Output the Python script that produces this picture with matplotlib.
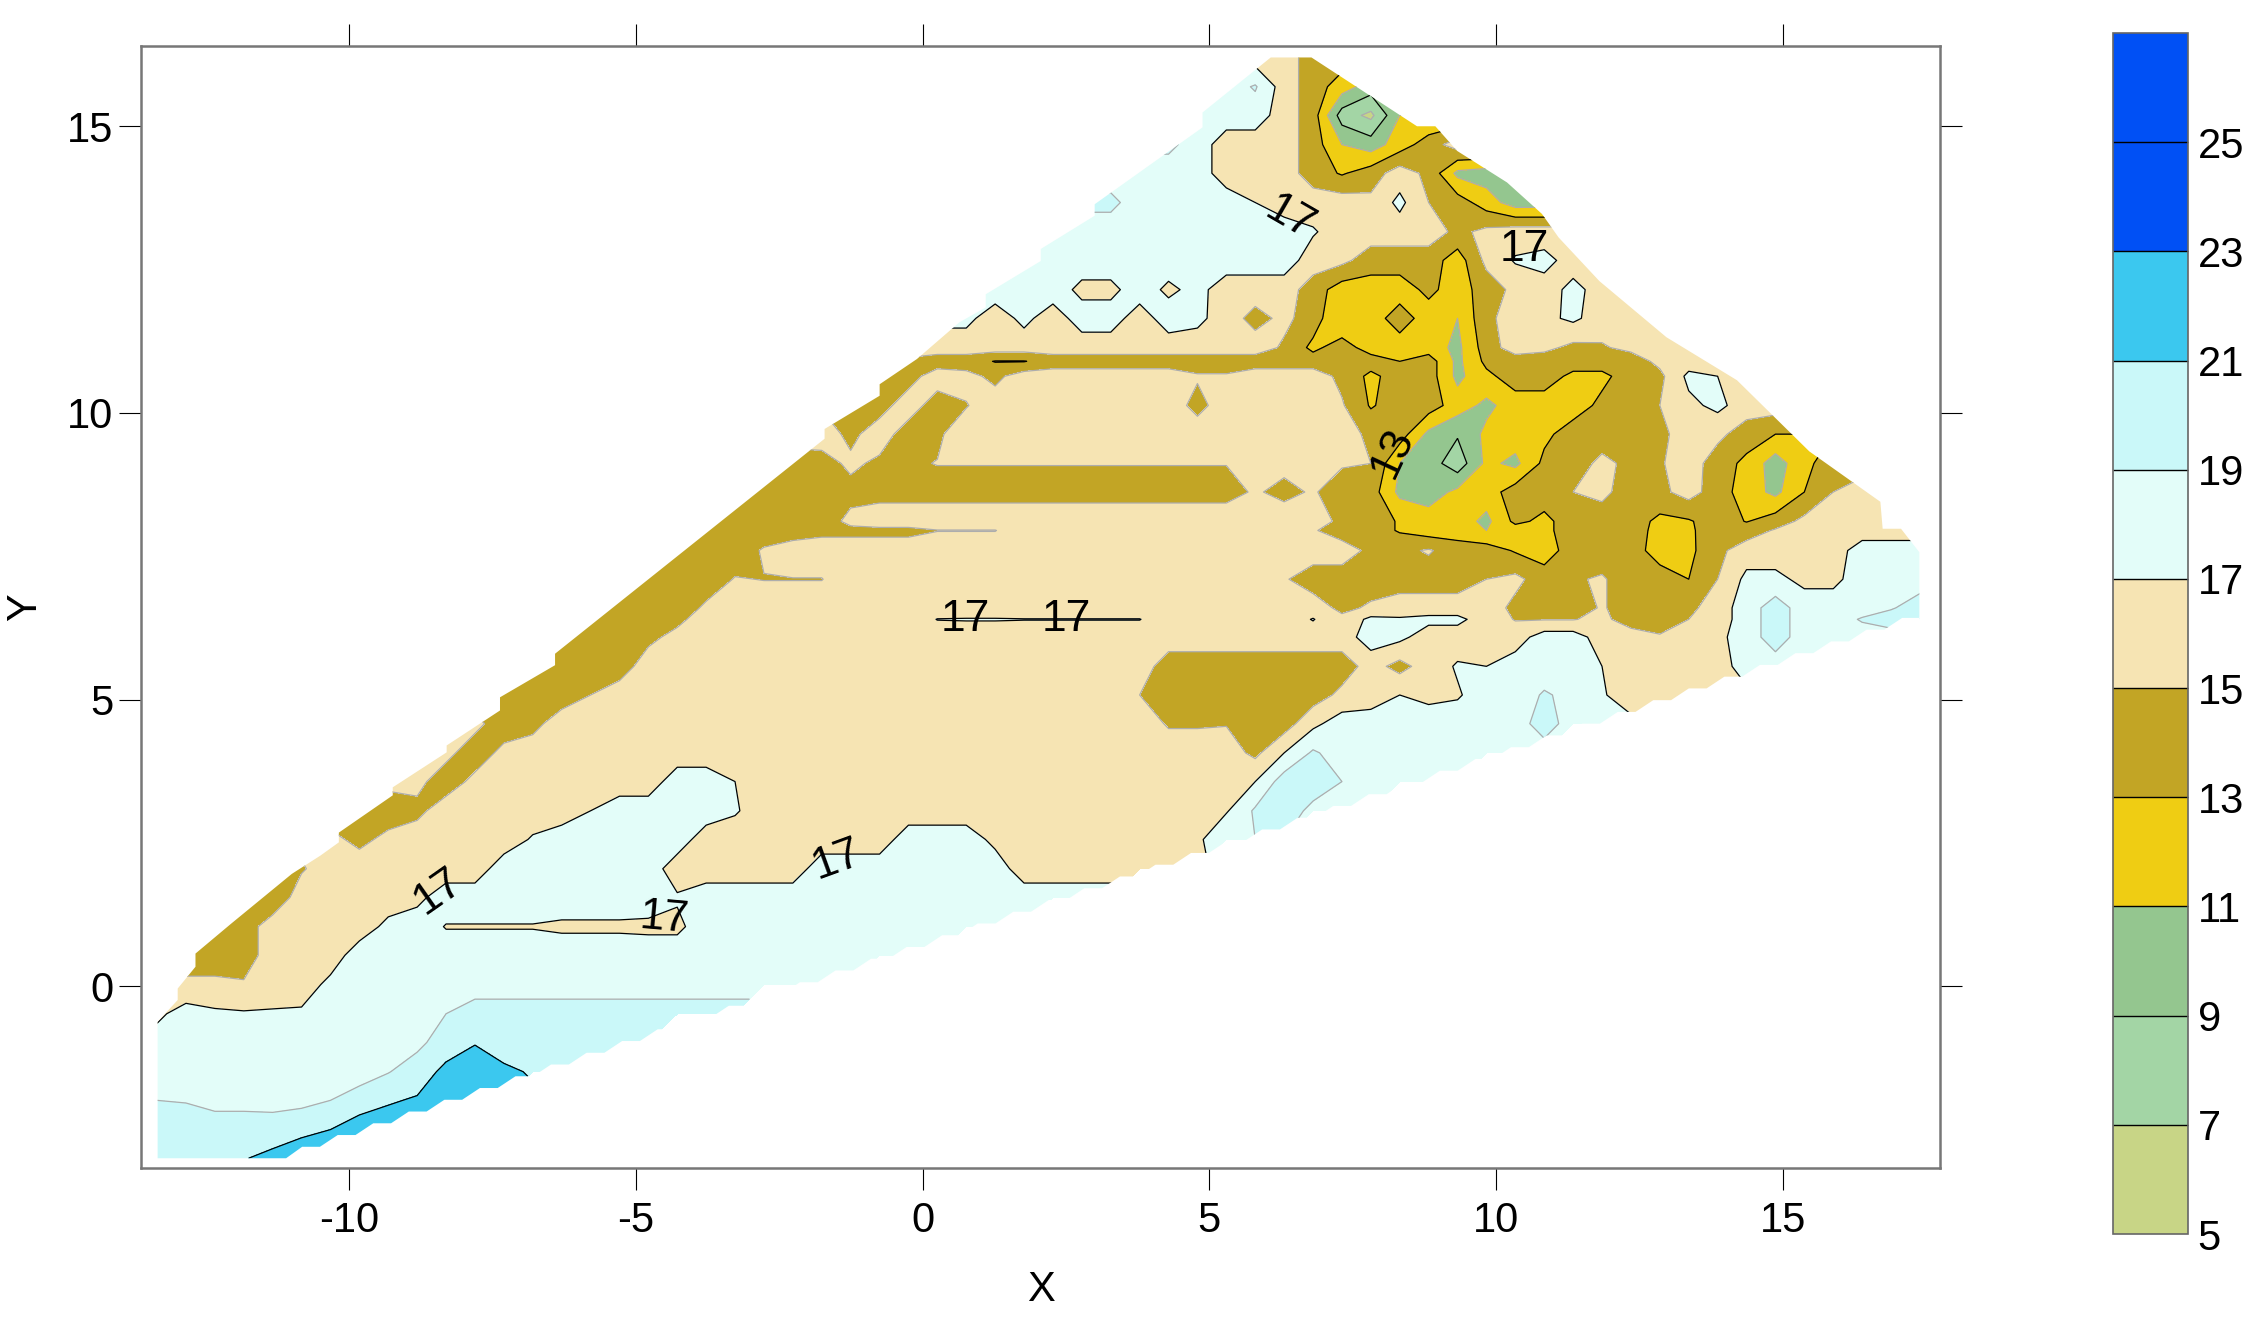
#!/usr/bin/env python3
"""Filled contour map of Z over X / Y, values read off the reference grid."""

import numpy as np
import matplotlib

matplotlib.use("Agg")
import matplotlib.pyplot as plt
from matplotlib.patches import PathPatch
from matplotlib.path import Path

plt.rcParams["font.family"] = ["Liberation Sans", "DejaVu Sans"]
plt.rcParams["axes.unicode_minus"] = False

# contour levels and the fill of each band
levels = [5, 7, 9, 11, 13, 15, 17, 19, 21, 23, 25, 27]
band_colors = [
    "#C8D586", "#A3D5A5", "#94C68F", "#EFCD13", "#C2A525", "#F6E4B3",
    "#E3FDF9", "#CAF8F9", "#3BC8EF", "#0050F5", "#0050F5",
]
major_levels = [9, 13, 17, 21, 25]

# grid columns
grid_x = np.linspace(-13.35, 17.39, 62)

# grid rows, top to bottom
grid_y = [
    16.2, 15.69, 15.19, 14.68, 14.18, 13.67, 13.16, 12.66, 12.15, 11.65, 11.14,
    10.9, 10.64, 10.13, 9.63, 9.12, 8.62, 8.11, 7.95, 7.6, 7.1, 6.6, 6.4, 6.09,
    5.58, 5.08, 4.58, 4.07, 3.57, 3.06, 2.56, 2.05, 1.55, 1.04, 0.54, 0.03,
    -0.48, -0.98, -1.49, -1.99, -2.5, -3.0,
]

# for each row: first filled column, then the values read from there on
z_rows = [
    (39, [16, 14]),
    (37, [18, 19.2, 16, 14, 12, 10]),
    (36, [18, 18, 18, 16, 14, 8, 6.5, 11]),
    (35, [19.5, 18, 16, 16, 16, 14, 11, 10, 12, 14, 16]),
    (34, [18, 18, 18, 16, 16, 16, 14, 12.8, 14, 16, 14.5, 10.5, 10]),
    (33, [19.5, 18, 18, 18, 18, 17, 16, 16, 16, 15.5, 17.5, 15, 14, 12, 10]),
    (31, [18] * 9 + [17.2, 16, 16, 16, 16, 14.5, 15.5, 16, 16]),
    (30, [18] * 10 + [16, 15.5, 14, 14, 14, 12, 15.5, 17.2, 17.6, 16.2]),
    (29, [18, 18, 18, 16.5, 16.5, 18, 16.6, 17.6, 16, 16, 16, 14, 12, 12, 12, 13.5, 12, 14, 15.5, 16.2, 17.5, 16.3]),
    (28, [17.5, 16, 17.5, 16, 17.9, 17.9, 16, 18, 17.5, 16, 14.3, 15.5, 14, 11, 12, 14, 12, 11, 14.5, 16, 16.5, 17.4, 16, 16]),
    (27, [16] * 12 + [14.7, 12.5, 14, 12, 12, 12, 10.5, 14, 16, 15.5, 14.5, 14.8, 15.5, 16, 16]),
    (26, [14.6, 14, 14, 12.9, 12.9] + [14] * 12 + [13, 14, 10.5, 13.5, 14, 14, 14, 14, 14, 15.5, 16]),
    (26, [14.2, 16, 15.6, 14.5, 16] + [16] * 5 + [15.2, 15.2, 16, 16, 16, 14.5, 12.5, 14, 14, 10.5, 12.5, 14, 14, 12.5, 12.5, 14, 14.5, 17.5, 17]),
    (24, [14.8, 14.2, 16, 14, 14.9] + [16] * 7 + [14.4] + [16] * 4 + [15.2, 12.8, 14, 14, 12, 10.5, 12, 12, 12, 13.5, 14, 15, 16.5, 17.5, 16]),
    (23, [16, 14.5, 16, 14, 14.7] + [16] * 14 + [14.5, 14, 10.5, 9.2, 11.5, 12, 12.5, 14, 14, 14, 14.5, 16, 15.5, 14, 13]),
    (22, [14, 14.2, 15.4, 14.6, 14.8] + [15.05] * 11 + [15.2, 15.5, 16, 15.2, 15, 11, 10, 7.8, 11.5, 10.5, 13.5, 14, 15.5, 14.5, 14.8, 16, 14, 12.5, 10, 12.5, 14]),
    (21, [14.4] * 17 + [15.2, 14.5, 15.2, 14, 14, 10.5, 10, 11.5, 12, 14, 14, 15, 15.5, 14, 14.5, 15.8, 14, 12, 10.5, 13, 15, 16]),
    (19, [14] * 5 + [15.5] + [16] * 16 + [14.5, 14, 12.8, 12, 12, 10.5, 13.5, 12.5, 14, 14, 14, 12.5, 12.8, 14, 12.9, 14, 15.5, 16, 16, 16]),
    (19, [14] * 4 + [14.5] * 4 + [14.95] * 3 + [16] * 10 + [15.2, 14, 14, 12.8, 12, 12, 11, 12, 12.5, 14, 14, 14, 12.3, 12.7, 14, 14, 15.2, 16, 16, 16, 16]),
    (18, [14, 14, 14, 15.2] + [16] * 20 + [14.5, 14.5, 15.2, 14, 14, 12.8, 12, 14, 14, 14, 12, 12.5, 14.5, 16, 16, 16, 16, 18, 18, 18]),
    (17, [14, 14, 14, 15.1, 14.95, 14.95, 14.95] + [16] * 15 + [15.2, 14, 14, 14, 14, 14, 14, 15, 15.5, 14, 14.8, 15.2, 14, 14, 13, 15, 17.5, 17.5, 16.5, 16.5, 18, 18, 18]),
    (16, [14.5, 14.5, 14, 15.3] + [16] * 21 + [14.5, 15.3, 16, 16, 16, 16, 14.5, 14, 14, 15.2, 14, 14, 14.5, 16, 18, 20, 18, 18, 18, 18.8, 20]),
    (15, [15, 14, 14, 14.5, 16] + [16] * 7 + [17.05, 17.1, 17.1, 17.05, 17.05, 17.05, 17.05, 17.05] + [16] * 5 + [17.1, 15.5, 17.5, 17.2, 17.5, 17.5, 16, 14.9, 14.9, 14.9, 15.5, 14, 14, 15, 16, 18, 20, 18, 18, 19.2, 20, 20]),
    (15, [14, 14, 14.5, 15.6] + [16] * 23 + [18, 17.5, 16, 16, 16, 16, 18, 18, 16, 16, 15.2, 16, 16.5, 18, 20, 18, 18, 18]),
    (14, [14, 14, 14] + [16] * 18 + [14] * 7 + [15.8, 14.3, 16, 17.2, 17, 18, 18, 18, 17, 16, 16, 16, 16, 18, 18]),
    (12, [14, 14, 14, 15] + [16] * 18 + [15] + [14] * 6 + [15.5, 16, 17, 16.5, 16.8, 18, 18, 19.2, 18.5, 17.2, 16, 16, 16.5]),
    (11, [15.5, 14, 14.4] + [16] * 21 + [14.8, 14.8, 14.9, 14, 14, 16.5] + [18] * 7 + [20, 18, 17.5]),
    (10, [15.5, 14, 15.5] + [16] * 25 + [14.5, 17, 19.3] + [18] * 6),
    (9, [15.5, 14, 15.5] + [16] * 6 + [18, 18, 17] + [16] * 17 + [17, 20, 20, 19, 18, 18]),
    (8, [14, 14.5] + [16] * 5 + [17] + [18] * 4 + [17.2] + [16] * 16 + [16.8, 19.3, 20, 18.5]),
    (6, [15.5, 14.5, 15.5] + [16] * 4 + [17.2] + [18] * 5 + [16] * 7 + [18] * 3 + [16.5] + [16] * 6 + [16.5, 19]),
    (5, [14.8] + [16] * 6 + [18] * 6 + [16] * 5 + [18] * 7 + [16] * 5),
    (4, [13.5] + [16] * 4 + [16.5] + [18] * 8 + [17.2] + [18] * 13),
    (3, [14] + [16] * 4 + [17.5, 18] + [16.9] * 4 + [16.7] * 3 + [16.6] * 2 + [18] * 10),
    (2, [14.5, 14, 16, 16, 16] + [18] * 19),
    (1, [15.2, 15.2, 15.2, 16, 16, 17.5] + [18] * 16),
    (0, [16.5, 18, 17.4, 17.2, 17.2, 17.3, 18, 18, 18, 18, 19] + [20] * 8),
    (0, [18] * 9 + [18.5, 20, 20.9, 20, 20, 20, 20]),
    (0, [18] * 8 + [18.9, 20, 21.5, 22, 21.4, 20.8]),
    (0, [19, 18.9, 18.4, 18.4, 18.3, 18.4, 19, 20, 20.8, 21.2, 22]),
    (0, [20, 20, 20, 20, 20, 20.6, 21, 22]),
    (0, [20, 20, 20, 20.9, 21.5, 22]),
]

# outline of the surveyed area, left side and top, then right side
outline_x = [
    -13.34, -13.34, -12.99, -12.99, -12.68, -12.68, -12.06, -11.0, -10.5, -10.18,
    -10.18, -9.24, -9.24, -8.3, -8.3, -7.69, -7.37, -7.37, -6.41, -6.41, -1.71,
    -1.71, -0.75, -0.75, -0.1, 0.64, 1.1, 1.1, 2.06, 2.06, 3.0, 3.0, 4.88, 4.88,
    6.07, 6.78, 8.62, 8.94, 9.32, 10.19, 10.8, 11.09, 11.8, 12.97, 14.2, 15.46,
    16.7, 16.74, 17.06, 17.38, 17.38,
]
outline_y = [
    -3.0, -0.62, -0.24, -0.04, 0.34, 0.57, 1.09, 1.96, 2.28, 2.51, 2.68, 3.33,
    3.47, 4.08, 4.2, 4.6, 4.81, 5.04, 5.6, 5.8, 9.55, 9.72, 10.3, 10.5, 10.94,
    11.58, 11.84, 12.07, 12.65, 12.86, 13.44, 13.64, 14.98, 15.24, 16.2, 16.2,
    15.0, 15.0, 14.57, 14.02, 13.47, 13.06, 12.3, 11.32, 10.57, 9.33, 8.45, 7.98,
    7.98, 7.57, 6.4,
]

# inline contour labels
label_texts = ["17", "17", "17", "17", "17", "17", "17", "13"]
label_x = [6.4, 10.5, 0.75, 2.5, -8.45, -4.5, -1.5, 8.2]
label_y = [13.4, 12.85, 6.4, 6.4, 1.65, 1.18, 2.2, 9.3]
label_angle = [-30, 0, 0, 0, 35, -5, 20, 65]

x_ticks = [-10, -5, 0, 5, 10, 15]
y_ticks = [0, 5, 10, 15]

Z = np.full((len(grid_y), len(grid_x)), np.nan)
for row, (start, values) in enumerate(z_rows):
    end = start + len(values)
    Z[row, start:end] = values
    # carry the edge values on, the outline clips them
    Z[row, max(start - 2, 0):start] = values[0]
    Z[row, end:end + 2] = values[-1]

# lower edge of the area is a staircase
stair_x, stair_y = [], []
for k in range(45, -1, -1):
    stair_x += [-10.82 + 0.62 * k + 0.31, -10.82 + 0.62 * k]
    stair_y += [-2.8 + 0.205 * k, -2.8 + 0.205 * k]
stair_x.append(-11.1)
stair_y.append(-3.0)

fig = plt.figure(figsize=(22.45, 13.38), dpi=100)
W, H = 2245.0, 1338.0
ax = fig.add_axes([141 / W, 1 - 1168 / H, (1940 - 141) / W, (1168 - 46) / H])

cf = ax.contourf(grid_x, grid_y, Z, levels=levels, colors=band_colors)
line_colors = ["black" if lv in major_levels else "#ADADAD" for lv in levels]
cl = ax.contour(grid_x, grid_y, Z, levels=levels, colors=line_colors, linewidths=0.9)

clip_xy = np.column_stack([outline_x + stair_x, outline_y + stair_y])
clip_patch = PathPatch(Path(np.vstack([clip_xy, clip_xy[:1]])), transform=ax.transData,
                       facecolor="none", edgecolor="none")
ax.add_patch(clip_patch)
cf.set_clip_path(clip_patch)
cl.set_clip_path(clip_patch)

for txt, lx, ly, ang in zip(label_texts, label_x, label_y, label_angle):
    ax.text(lx, ly, txt, fontsize=32, rotation=ang, ha="center", va="center",
            rotation_mode="anchor")

ax.set_xlim(-13.63, 17.74)
ax.set_ylim(-3.17, 16.40)
ax.set_xticks(x_ticks)
ax.set_yticks(y_ticks)
ax.tick_params(axis="both", which="major", length=16, width=0.8, labelsize=30,
               top=True, right=True, color="black")
ax.tick_params(axis="x", pad=8)
ax.tick_params(axis="y", pad=4)
for spine in ax.spines.values():
    spine.set_linewidth(1.8)
    spine.set_color("#777777")

ax.set_xlabel("X", fontsize=30)
ax.set_ylabel("Y", fontsize=30)
ax.xaxis.set_label_coords(0.5, (1168 - 1270) / (1168 - 46))
ax.yaxis.set_label_coords((45 - 141) / (1940 - 141), 0.5)

# colour scale on the right
cax = fig.add_axes([2113 / W, 1 - 1234 / H, 75 / W, (1234 - 33) / H])
cb = fig.colorbar(cf, cax=cax, drawedges=True)
cb.set_ticks(levels[:-1])
cb.set_ticklabels([str(lv) for lv in levels[:-1]])
cb.ax.tick_params(length=0, labelsize=30, pad=7)
cb.dividers.set_color("black")
cb.dividers.set_linewidth(1.0)
cb.outline.set_edgecolor("#666666")
cb.outline.set_linewidth(1.2)

fig.savefig("out.png", dpi=100, facecolor="white")
